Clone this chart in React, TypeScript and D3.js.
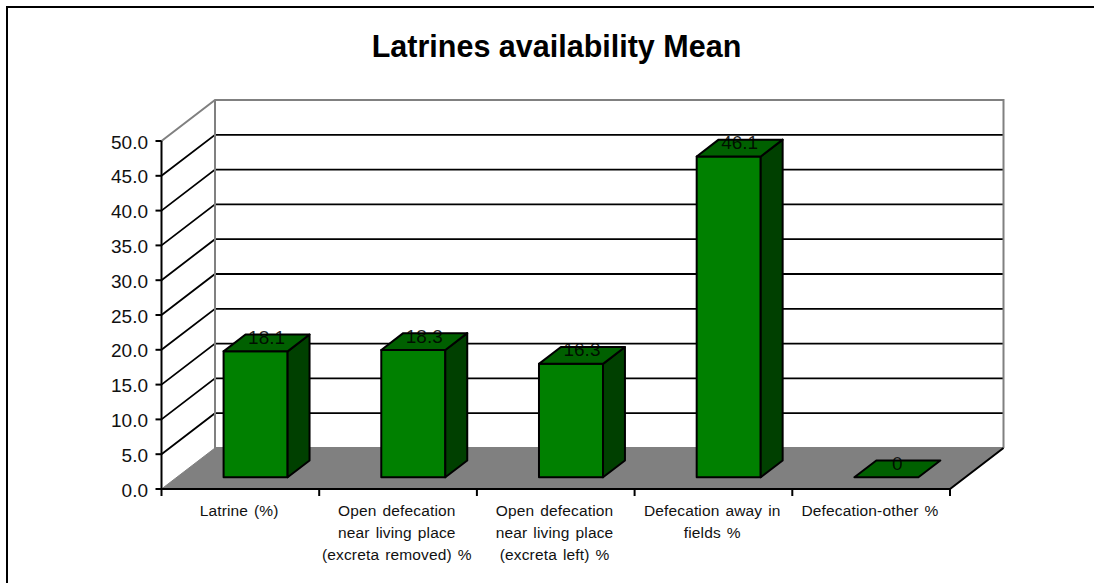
import React from "react";
import * as d3 from "d3";

const title = "Latrines availability Mean";
const categories = [
  ["Latrine (%)"],
  ["Open defecation", "near living place", "(excreta removed) %"],
  ["Open defecation", "near living place", "(excreta left) %"],
  ["Defecation away in", "fields %"],
  ["Defecation-other %"],
];
const values = [18.1, 18.3, 16.3, 46.1, 0];
const valueLabels = ["18.1", "18.3", "16.3", "46.1", "0"];
const yTicks = [0, 5, 10, 15, 20, 25, 30, 35, 40, 45, 50];

const W = 1094, H = 583;
const x0 = 161.5, x1 = 950, y0 = 489, y50 = 141;
const DX = 53.5, DY = -41;
const FF = "'Liberation Sans', Arial, sans-serif";

const xScale = d3.scaleBand<number>().domain(d3.range(values.length)).range([x0, x1]).paddingInner(0.594).paddingOuter(0.297);
const yScale = d3.scaleLinear().domain([0, 50]).range([y0, y50]);
const fmt = d3.format(".1f");

const poly = (pts: number[][]) => d3.line()(pts as [number, number][]) + "Z";

export default function App() {
  const inset = 0.285, bd = 0.41;
  const edges = xScale.domain().map((i) => xScale(i)! - xScale.step() * xScale.paddingOuter());
  return (
    <svg width={W} height={H} style={{ position: "absolute", left: 0, top: 0, background: "#fff" }} fontFamily={FF}>
      <path d={`M7 ${H}V7H${W}`} fill="none" stroke="#000" strokeWidth={2} />
      <text x={556.5} y={57} textAnchor="middle" fontSize={30.5} fontWeight="bold" fill="#000">{title}</text>

      {/* floor */}
      <path d={poly([[x0, y0], [x0 + DX, y0 + DY], [x1 + DX, y0 + DY], [x1, y0]])} fill="#808080" stroke="#808080" />

      {/* walls gridlines */}
      {yTicks.slice(1, -1).map((t) => (
        <path key={t} d={`M${x0} ${yScale(t)}L${x0 + DX} ${yScale(t) + DY}H${x1 + DX}`} fill="none" stroke="#000" strokeWidth={1.8} />
      ))}
      <path d={`M${x0} ${y50}L${x0 + DX} ${y50 + DY}H${x1 + DX}V${y0 + DY}`} fill="none" stroke="#808080" strokeWidth={2} />
      <path d={`M${x0 + DX} ${y50 + DY}V${y0 + DY}H${x1 + DX}`} fill="none" stroke="#808080" strokeWidth={2} />

      {/* bars */}
      {values.map((v, i) => {
        const l = xScale(i)! + DX * inset, r = l + xScale.bandwidth();
        const base = y0 + DY * inset;
        const top = base - (y0 - yScale(v));
        const dx = DX * bd, dy = DY * bd;
        return (
          <g key={i} stroke="#000" strokeWidth={2} strokeLinejoin="round">
            {v > 0 && <path d={poly([[l, top], [r, top], [r, base], [l, base]])} fill="#008000" />}
            {v > 0 && <path d={poly([[r, top], [r + dx, top + dy], [r + dx, base + dy], [r, base]])} fill="#004000" />}
            <path d={poly([[l, top], [l + dx, top + dy], [r + dx, top + dy], [r, top]])} fill="#006000" />
            <text x={(l + r + dx) / 2} y={top + dy / 2 + 1} textAnchor="middle" fontSize={19} fill="#000" stroke="none" fillOpacity={0.85}>{valueLabels[i]}</text>
          </g>
        );
      })}

      {/* axes */}
      <path d={`M${x0} ${y50}V${y0}H${x1}L${x1 + DX} ${y0 + DY}`} fill="none" stroke="#000" strokeWidth={2} />
      {yTicks.map((t) => (
        <g key={t}>
          <path d={`M${x0 - 6} ${yScale(t)}H${x0}`} stroke="#000" strokeWidth={2} />
          <text x={x0 - 13.5} y={yScale(t) + 7.5} textAnchor="end" fontSize={19} fill="#111">{fmt(t)}</text>
        </g>
      ))}
      {[...edges, x1].map((x, i) => (
        <path key={i} d={`M${x} ${y0}V${y0 + 7}`} stroke="#000" strokeWidth={2} />
      ))}
      {categories.map((lines, i) => (
        <text key={i} textAnchor="middle" fontSize={15.5} letterSpacing={0.15} wordSpacing={1.5} fill="#111">
          {lines.map((s, j) => (
            <tspan key={j} x={xScale(i)! + xScale.bandwidth() / 2 - 1.2} y={516 + j * 22}>{s}</tspan>
          ))}
        </text>
      ))}
    </svg>
  );
}
